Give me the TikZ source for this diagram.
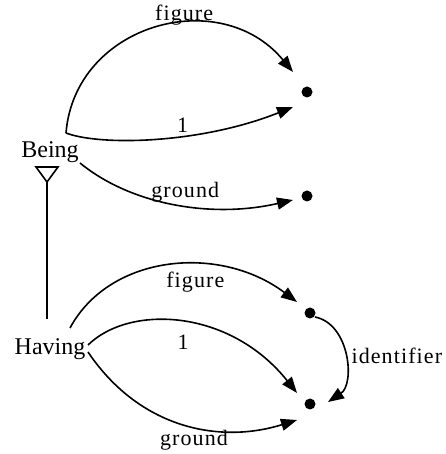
\documentclass[tikz,border=0pt]{standalone}
\usepackage{fontspec}
\setmainfont{Liberation Serif}
\newfontfamily\rolefont{Liberation Serif}[LetterSpace=5]
\usetikzlibrary{arrows.meta}
\tikzset{
  cls/.style={font=\fontsize{24}{26}\selectfont, inner sep=3pt},
  role/.style={font=\rolefont\fontsize{22}{24}\selectfont, inner sep=3pt},
  pt/.style={circle, fill=black, inner sep=0pt, minimum size=11pt},
  rel/.style={line width=1.6pt, -{Triangle[length=16pt,width=12pt]}},
  isa/.style={line width=1.6pt},
}

\begin{document}
\begin{tikzpicture}[x=1pt, y=1pt]
    \useasboundingbox (0,0) rectangle (445,454);
    \node[cls, anchor=base] (Being) at (50,296) {Being};
    \node[cls, anchor=base] (Having) at (50,99) {Having};
    \node[pt] (b1) at (307,362) {};
    \node[pt] (b2) at (307,258) {};
    \node[pt] (h1) at (310,141) {};
    \node[pt] (h2) at (310,50) {};
    \coordinate (isa) at (47,272);
    \draw[isa] (isa) -- ++(-11,15) -- ++(22,0) -- cycle;
    \draw[isa, shorten >=17pt] (isa) -- (isa |- Having.north);
    \draw[rel] ([shift={(16,25)}]Being.base) .. controls +(9,109) and +(-73,88) ..
        node[role, pos=.6, above=-5pt] {figure} ([shift={(-14,20)}]b1.center);
    \draw[rel] ([shift={(16,25)}]Being.base) .. controls +(34,-13) and +(-93,-37) ..
        node[role, pos=.6, above] {1} ([shift={(-14,-15)}]b1.center);
    \draw[rel] ([shift={(30,-5)}]Being.base) .. controls +(50,-41) and +(-83,-19) ..
        node[role, pos=.55, above] {ground} ([shift={(-14,-4)}]b2.center);
    \draw[rel] ([shift={(20,27)}]Having.base) .. controls +(40,74) and +(-77,58) ..
        node[role, pos=.6, below=3pt] {figure} ([shift={(-13,11)}]h1.center);
    \draw[rel] ([shift={(38,10)}]Having.base) .. controls +(42,41) and +(-67,84) ..
        node[role, pos=.5, below=9pt] {1} ([shift={(-13,11)}]h2.center);
    \draw[rel] ([shift={(38,3)}]Having.base) .. controls +(52,-77) and +(-77,-24) ..
        node[role, pos=.55, below] {ground} ([shift={(-13,-16)}]h2.center);
    \draw[rel] ([shift={(5,-4)}]h1.center) .. controls +(35,-7) and +(27,18) ..
        node[role, pos=.5, right=3pt] {identifier} ([shift={(18,2)}]h2.center);
\end{tikzpicture}
\end{document}
